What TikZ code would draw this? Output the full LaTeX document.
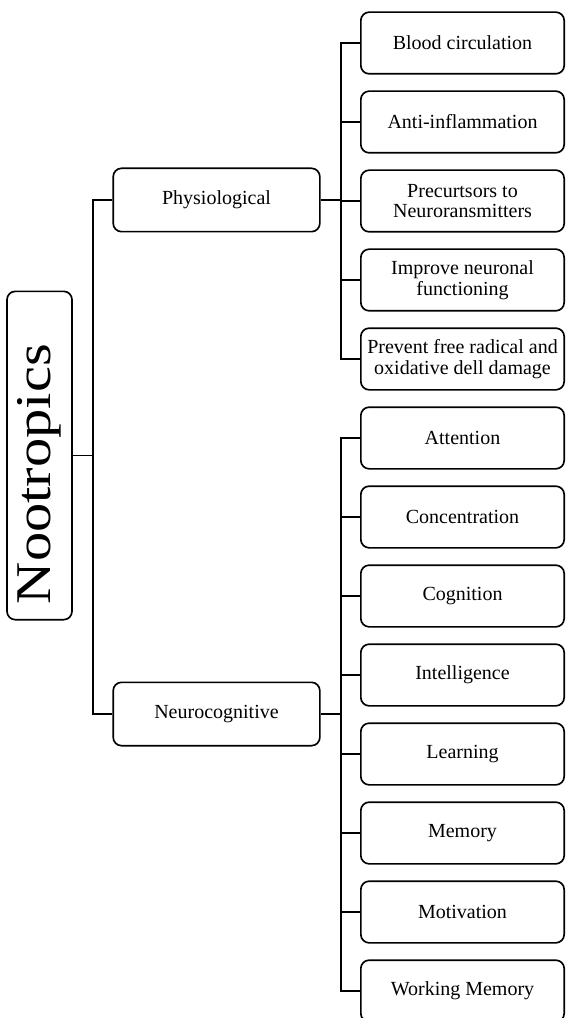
\documentclass[tikz,border=0pt]{standalone}
\usepackage{fontspec}
\setmainfont{Liberation Serif}
\usetikzlibrary{calc}
\tikzset{
  box/.style={draw,line width=1pt,rounded corners=5pt,align=center,inner sep=2pt,
    font=\fontsize{12}{12.5}\selectfont},
  leaf/.style={box,minimum width=122pt,minimum height=37pt},
  branch/.style={box,minimum width=124pt,minimum height=38pt},
  rootbox/.style={box,minimum width=39pt,minimum height=197pt,
    font=\fontsize{30}{34}\selectfont},
  link/.style={line width=1.1pt}
}
\begin{document}
\begin{tikzpicture}[x=0.6pt,y=-0.6pt]
  \useasboundingbox (0,0) rectangle (565,1018);
  % root and the two branches
  \node[rootbox] (root)  at (39.5,455.5)
    {\rotatebox{90}{\scalebox{1.17}[1]{Nootropics\hspace{19pt}}}};
  \node[branch]  (phys)  at (216.5,200) {Physiological};
  \node[branch]  (neuro) at (216.5,714) {Neurocognitive};
  \coordinate (trunk) at ($(root.east)+(20,0)$);
  \draw[link] (root.east) -- (trunk);
  \draw[link] (trunk) |- (phys.west);
  \draw[link] (trunk) |- (neuro.west);
  % physiological leaves
  \foreach \t [count=\i] in {Blood circulation, Anti-inflammation,
      {Precurtsors to\\Neuroransmitters}, {Improve neuronal\\functioning},
      {Prevent free radical and\\oxidative dell damage}}
    \node[leaf] (p\i) at (462.5,{43+79*(\i-1)}) {\t};
  \draw[link] (phys.east) -- ++(20,0) coordinate (pbus);
  \foreach \i in {1,...,5}
    \draw[link] (pbus) |- (p\i.west);
  % neurocognitive leaves
  \foreach \t [count=\i] in {Attention, Concentration, Cognition, Intelligence,
      Learning, Memory, Motivation, Working Memory}
    \node[leaf] (n\i) at (462.5,{438+79*(\i-1)}) {\t};
  \draw[link] (neuro.east) -- ++(20,0) coordinate (nbus);
  \foreach \i in {1,...,8}
    \draw[link] (nbus) |- (n\i.west);
\end{tikzpicture}
\end{document}
